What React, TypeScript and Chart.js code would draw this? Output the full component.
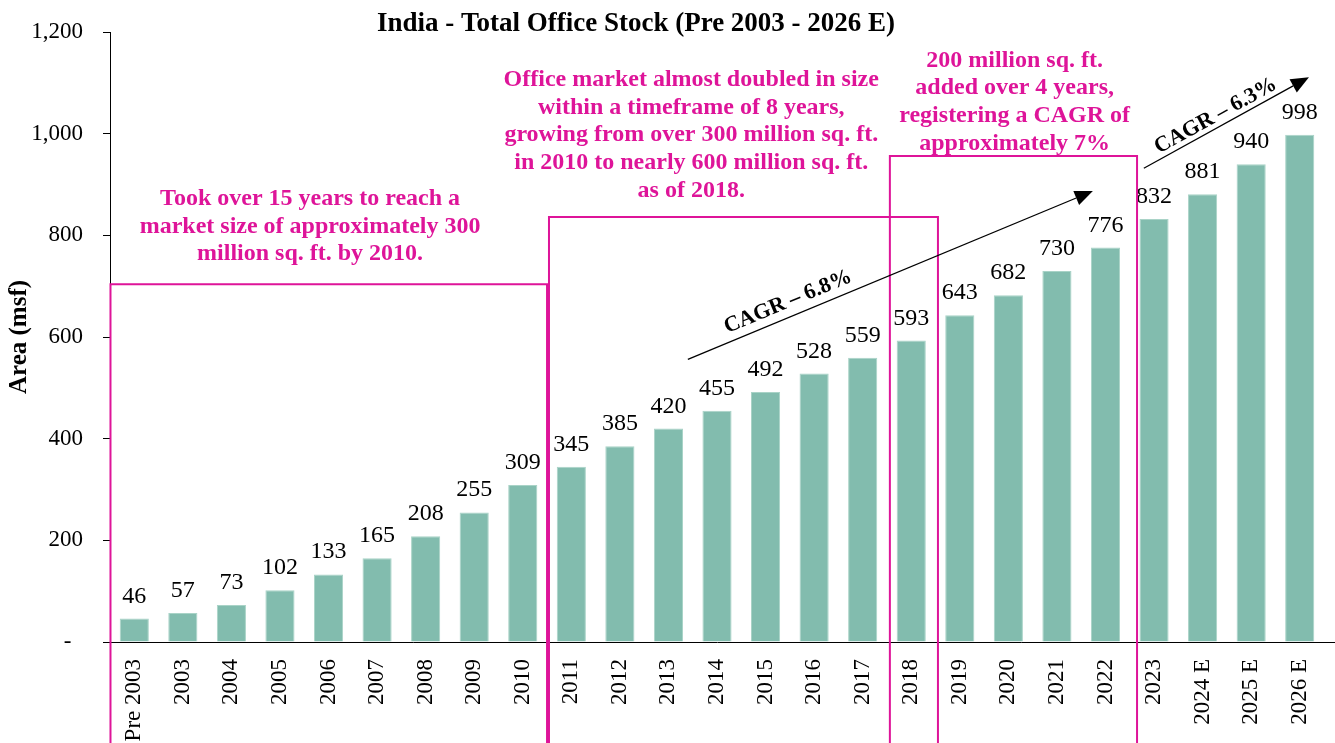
import React, { useEffect, useRef } from 'react';
import { Chart, registerables } from 'chart.js';

Chart.register(...registerables);

const categories = ['Pre 2003', '2003', '2004', '2005', '2006', '2007', '2008', '2009', '2010', '2011', '2012', '2013', '2014', '2015', '2016', '2017', '2018', '2019', '2020', '2021', '2022', '2023', '2024 E', '2025 E', '2026 E'];
const stock = [46, 57, 73, 102, 133, 165, 208, 255, 309, 345, 385, 420, 455, 492, 528, 559, 593, 643, 682, 730, 776, 832, 881, 940, 998];
const yTickValues = [0, 200, 400, 600, 800, 1000, 1200];
const chartTitle = 'India - Total Office Stock (Pre 2003 - 2026 E)';
const yAxisTitle = 'Area (msf)';

// Annotation boxes (category index / value coordinates)
const boxStart = [-0.49, 8.54, 15.56];
const boxEnd = [8.5, 16.55, 20.65];
const boxTop = [704, 836, 956];

// Annotation notes
const note1 = ['Took over 15 years to reach a', 'market size of approximately 300', 'million sq. ft. by 2010.'];
const note2 = ['Office market almost doubled in size', 'within a timeframe of 8 years,', 'growing from over 300 million sq. ft.', 'in 2010 to nearly 600 million sq. ft.', 'as of 2018.'];
const note3 = ['200 million sq. ft.', 'added over 4 years,', 'registering a CAGR of', 'approximately 7%'];
const notes = [note1, note2, note3];
const noteX = [3.62, 11.47, 18.13];
const noteFirstBaseline = [860, 1094, 1132];

// CAGR arrows
const arrowFrom = [[11.4, 556], [20.79, 932]];
const arrowTo = [[19.74, 887], [24.19, 1111]];
const cagrLabels = ['CAGR – 6.8%', 'CAGR – 6.3%'];
const cagrLabelPos = [[13.46, 669], [22.27, 1035]];

const FONT = '"Liberation Serif", "Times New Roman", Times, serif';
const PINK = '#DE1499';
const BAR = '#82BCAE';

const annotPlugin = {
  id: 'annot',
  afterDatasetsDraw(chart: any) {
    const { ctx, scales } = chart;
    const x = scales.x;
    const y = scales.y;
    const H = chart.height;
    ctx.save();

    // x axis line extension
    ctx.strokeStyle = '#000';
    ctx.lineWidth = 1;
    ctx.beginPath();
    ctx.moveTo(chart.chartArea.right, y.getPixelForValue(0) + 0.5);
    ctx.lineTo(chart.width, y.getPixelForValue(0) + 0.5);
    ctx.stroke();

    // data labels
    ctx.fillStyle = '#000';
    ctx.font = `24px ${FONT}`;
    ctx.textAlign = 'center';
    ctx.textBaseline = 'alphabetic';
    const meta = chart.getDatasetMeta(0);
    meta.data.forEach((bar: any, i: number) => {
      ctx.fillText(String(stock[i]), bar.x, bar.y - 16);
    });

    // boxes
    ctx.strokeStyle = PINK;
    ctx.lineWidth = 2;
    for (let i = 0; i < boxStart.length; i++) {
      const l = x.getPixelForValue(boxStart[i]);
      const r = x.getPixelForValue(boxEnd[i]);
      const t = y.getPixelForValue(boxTop[i]);
      ctx.beginPath();
      ctx.moveTo(l, H + 5);
      ctx.lineTo(l, t);
      ctx.lineTo(r, t);
      ctx.lineTo(r, H + 5);
      ctx.stroke();
    }

    // notes
    ctx.fillStyle = PINK;
    ctx.font = `bold 24px ${FONT}`;
    ctx.textAlign = 'center';
    notes.forEach((lines, i) => {
      const cx = x.getPixelForValue(noteX[i]);
      const by = y.getPixelForValue(noteFirstBaseline[i]);
      lines.forEach((line, j) => {
        ctx.fillText(line, cx, by + j * 27.7);
      });
    });

    // arrows
    ctx.strokeStyle = '#000';
    ctx.fillStyle = '#000';
    ctx.lineWidth = 1.3;
    for (let i = 0; i < arrowFrom.length; i++) {
      const x0 = x.getPixelForValue(arrowFrom[i][0]);
      const y0 = y.getPixelForValue(arrowFrom[i][1]);
      const x1 = x.getPixelForValue(arrowTo[i][0]);
      const y1 = y.getPixelForValue(arrowTo[i][1]);
      const ang = Math.atan2(y1 - y0, x1 - x0);
      const headLen = 18;
      const headW = 7.5;
      const bx = x1 - headLen * Math.cos(ang);
      const by = y1 - headLen * Math.sin(ang);
      ctx.beginPath();
      ctx.moveTo(x0, y0);
      ctx.lineTo(bx, by);
      ctx.stroke();
      ctx.beginPath();
      ctx.moveTo(x1, y1);
      ctx.lineTo(bx + headW * Math.sin(ang), by - headW * Math.cos(ang));
      ctx.lineTo(bx - headW * Math.sin(ang), by + headW * Math.cos(ang));
      ctx.closePath();
      ctx.fill();

      // label
      const lx = x.getPixelForValue(cagrLabelPos[i][0]);
      const ly = y.getPixelForValue(cagrLabelPos[i][1]);
      ctx.save();
      ctx.translate(lx, ly);
      ctx.rotate(ang);
      ctx.font = `bold 22px ${FONT}`;
      ctx.textAlign = 'center';
      ctx.textBaseline = 'middle';
      ctx.fillText(cagrLabels[i], 0, 0);
      ctx.restore();
    }

    // title
    ctx.fillStyle = '#000';
    ctx.font = `bold 27px ${FONT}`;
    ctx.textAlign = 'center';
    ctx.textBaseline = 'alphabetic';
    ctx.fillText(chartTitle, 636, 31);

    ctx.restore();
  },
};

export default function App() {
  const ref = useRef<HTMLCanvasElement | null>(null);

  useEffect(() => {
    if (!ref.current) return;
    Chart.defaults.font.family = FONT;
    Chart.defaults.color = '#000';
    const chart = new Chart(ref.current, {
      type: 'bar',
      data: {
        labels: categories,
        datasets: [
          {
            data: stock,
            backgroundColor: BAR,
            borderColor: '#A9D3C7',
            borderWidth: 1,
            barPercentage: 0.6,
            categoryPercentage: 1,
          },
        ],
      },
      options: {
        responsive: false,
        animation: false,
        layout: { padding: { top: 32, right: 11, left: 0, bottom: 0 } },
        plugins: {
          legend: { display: false },
          title: { display: false },
          tooltip: { enabled: false },
        },
        scales: {
          x: {
            grid: { display: false },
            border: { display: true, color: '#000', width: 1 },
            ticks: {
              minRotation: 90,
              maxRotation: 90,
              autoSkip: false,
              padding: 9,
              font: { size: 23, family: FONT },
              color: '#000',
            },
            afterFit: (s: any) => {
              s.height = 101;
              s.paddingLeft = 0;
              s.paddingRight = 0;
            },
          },
          y: {
            min: 0,
            max: 1200,
            grid: { drawOnChartArea: false, drawTicks: true, tickLength: 7, color: '#000' },
            border: { display: true, color: '#000', width: 1 },
            afterBuildTicks: (s: any) => {
              s.ticks = yTickValues.map((v) => ({ value: v }));
            },
            ticks: {
              padding: 20,
              font: { size: 23, family: FONT },
              color: '#000',
              callback: (v: any) => (Number(v) === 0 ? '-  ' : Number(v).toLocaleString('en-US')),
            },
            title: {
              display: true,
              text: yAxisTitle,
              font: { size: 25, weight: 'bold', family: FONT },
              color: '#000',
              padding: { top: 5, bottom: 0 },
            },
            afterFit: (s: any) => {
              s.width = 110;
              s.paddingTop = 0;
              s.paddingBottom = 0;
            },
          },
        },
      },
      plugins: [annotPlugin],
    });
    return () => chart.destroy();
  }, []);

  return (
    <div style={{ position: 'absolute', left: 0, top: 0, width: 1335, height: 743, background: '#fff' }}>
      <canvas ref={ref} width={1335} height={743} />
    </div>
  );
}
